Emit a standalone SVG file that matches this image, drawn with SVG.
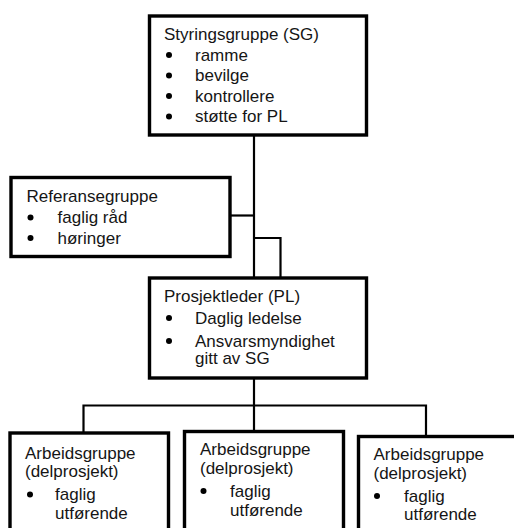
<svg xmlns="http://www.w3.org/2000/svg" width="514" height="528" viewBox="0 0 514 528">
<style>
.box{fill:#fff;stroke:#000;stroke-width:3.4}
.t{font-family:"Liberation Sans",Arial,sans-serif;font-size:17px;fill:#151515}
.b{fill:#000}
.c{fill:none;stroke:#000;stroke-width:2.2}
</style>
<rect width="514" height="528" fill="#fff"/>
<g id="connectors">
<path class="c" d="M254 135V278"/>
<path class="c" d="M230 215.5H254"/>
<path class="c" d="M254 238H280.5V278"/>
<path class="c" d="M254 378V432"/>
<path class="c" d="M83.5 433V405.5H426V437"/>
</g>
<g id="sg">
<rect class="box" x="149.5" y="16" width="217" height="119"/>
<text class="t" x="164" y="40">Styringsgruppe (SG)</text>
<circle class="b" cx="169" cy="55" r="3"/><text class="t" x="195" y="60.5">ramme</text>
<circle class="b" cx="169" cy="75.5" r="3"/><text class="t" x="195" y="81">bevilge</text>
<circle class="b" cx="169" cy="96" r="3"/><text class="t" x="195" y="101.5">kontrollere</text>
<circle class="b" cx="169" cy="116.5" r="3"/><text class="t" x="195" y="122">støtte for PL</text>
</g>
<g id="ref">
<rect class="box" x="11" y="177.5" width="219" height="79"/>
<text class="t" x="26.5" y="202">Referansegruppe</text>
<circle class="b" cx="30.5" cy="217.5" r="3"/><text class="t" x="57.5" y="223">faglig råd</text>
<circle class="b" cx="30.5" cy="238" r="3"/><text class="t" x="57.5" y="243.5">høringer</text>
</g>
<g id="pl">
<rect class="box" x="149.5" y="278" width="217" height="100"/>
<text class="t" x="164" y="302">Prosjektleder (PL)</text>
<circle class="b" cx="169" cy="318" r="3"/><text class="t" x="195" y="323.5">Daglig ledelse</text>
<circle class="b" cx="169" cy="341" r="3"/><text class="t" x="195" y="346.5">Ansvarsmyndighet</text>
<text class="t" x="195" y="364">gitt av SG</text>
</g>
<g id="ag1">
<rect class="box" x="10" y="433" width="158.5" height="110"/>
<text class="t" x="25" y="458.5">Arbeidsgruppe</text>
<text class="t" x="25" y="477">(delprosjekt)</text>
<circle class="b" cx="30" cy="494.5" r="3"/><text class="t" x="55" y="500">faglig</text>
<text class="t" x="55" y="518.5">utførende</text>
</g>
<g id="ag2">
<rect class="box" x="184.5" y="431.5" width="159" height="110"/>
<text class="t" x="200" y="455">Arbeidsgruppe</text>
<text class="t" x="200" y="474">(delprosjekt)</text>
<circle class="b" cx="203.5" cy="491" r="3"/><text class="t" x="230" y="497">faglig</text>
<text class="t" x="230" y="516">utførende</text>
</g>
<g id="ag3">
<rect class="box" x="358.5" y="436.5" width="170" height="110"/>
<text class="t" x="373.5" y="459.5">Arbeidsgruppe</text>
<text class="t" x="373.5" y="478.5">(delprosjekt)</text>
<circle class="b" cx="377" cy="496" r="3"/><text class="t" x="404" y="502">faglig</text>
<text class="t" x="404" y="519.5">utførende</text>
</g>
</svg>
